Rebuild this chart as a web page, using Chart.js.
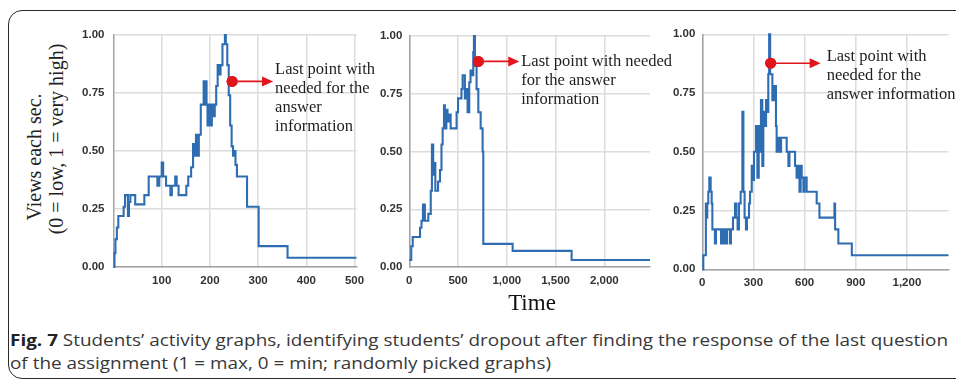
<!DOCTYPE html>
<html><head><meta charset="utf-8">
<script src="https://cdn.jsdelivr.net/npm/chart.js@4.4.1/dist/chart.umd.min.js"></script>
<style>
html,body{margin:0;padding:0;background:#fff;width:956px;height:382px;overflow:hidden;position:relative;}
#frame{position:absolute;left:8px;top:10px;width:990px;height:369px;border:1.5px solid #2a2a2a;border-radius:14px;box-sizing:border-box;}
canvas{position:absolute;}
.yt{position:absolute;font-family:'Liberation Serif',serif;font-size:20px;color:#222;white-space:nowrap;line-height:20px;transform:translate(-50%,-50%) rotate(-90deg);}
#time{position:absolute;left:532px;top:291px;font-family:'Liberation Serif',serif;font-size:23px;line-height:23px;color:#111;transform:translateX(-50%);white-space:nowrap;}
#cap{position:absolute;left:10px;top:328px;font-family:'Open Sans',sans-serif;font-size:16.5px;line-height:23px;color:#383838;white-space:nowrap;transform-origin:0 0;}
#cap b{color:#222;}
</style></head>
<body>
<div id="frame"></div>
<div class="yt" style="left:34px;top:157px">Views each sec.</div>
<div class="yt" style="left:56px;top:139px">(0 = low, 1 = very high)</div>
<canvas id="c1"></canvas>
<canvas id="c2"></canvas>
<canvas id="c3"></canvas>
<div id="time">Time</div>
<div id="cap"><div><span id="cap1"><b>Fig. 7</b> Students’ activity graphs, identifying students’ dropout after finding the response of the last question</span></div><div>of the assignment (1 = max, 0 = min; randomly picked graphs)</div></div>
<script>
// ---- data ----
const yTickValues = [0, 0.25, 0.5, 0.75, 1];
const yTickLabels = ['0.00', '0.25', '0.50', '0.75', '1.00'];

// Panel 1
const p1Time = [0, 2, 4, 7, 10, 21, 24, 30, 32, 35, 45, 64, 73, 91, 95, 100, 103, 109, 118, 121, 128, 131, 135, 151, 155, 161, 165, 168, 171, 174, 177, 181, 187, 189, 191, 193, 195, 198, 201, 204, 207, 210, 213, 216, 219, 222, 226, 231, 233, 236, 239, 242, 245, 248, 251, 253, 256, 277, 301, 361, 504];
const p1Views = [0, 0.06, 0.12, 0.17, 0.22, 0.26, 0.31, 0.22, 0.28, 0.31, 0.27, 0.31, 0.39, 0.35, 0.39, 0.45, 0.39, 0.35, 0.31, 0.35, 0.39, 0.35, 0.31, 0.35, 0.39, 0.43, 0.53, 0.48, 0.57, 0.48, 0.57, 0.70, 0.80, 0.70, 0.80, 0.70, 0.61, 0.70, 0.61, 0.70, 0.65, 0.70, 0.78, 0.87, 0.83, 0.87, 0.96, 1.00, 0.96, 0.87, 0.74, 0.61, 0.52, 0.48, 0.50, 0.44, 0.39, 0.26, 0.09, 0.04, 0.04];
const p1XTicks = [100, 200, 300, 400, 500];
const p1XLabels = ['100', '200', '300', '400', '500'];
const p1XMax = 504;
const p1Dot = [246, 0.80];
const p1ArrowTo = 331;
const p1Note = ['Last point with', 'needed for the', 'answer', 'information'];

// Panel 2
const p2Time = [0, 20, 35, 110, 125, 140, 160, 195, 220, 232, 245, 252, 267, 295, 315, 330, 342, 356, 365, 380, 392, 410, 424, 485, 500, 535, 547, 570, 588, 598, 615, 628, 645, 656, 663, 673, 690, 708, 732, 752, 759, 1060, 1665, 2469];
const p2Views = [0.03, 0.09, 0.13, 0.17, 0.20, 0.27, 0.20, 0.23, 0.33, 0.53, 0.40, 0.45, 0.33, 0.37, 0.42, 0.53, 0.60, 0.70, 0.60, 0.68, 0.63, 0.66, 0.60, 0.67, 0.73, 0.77, 0.83, 0.73, 0.77, 0.67, 0.80, 0.85, 0.83, 0.93, 1.00, 0.87, 0.77, 0.67, 0.60, 0.50, 0.10, 0.07, 0.03, 0.03];
const p2XTicks = [0, 500, 1000, 1500, 2000];
const p2XLabels = ['0', '500', '1,000', '1,500', '2,000'];
const p2XMax = 2469;
const p2Dot = [708, 0.89];
const p2ArrowTo = 1128;
const p2Note = ['Last point with needed', 'for the answer', 'information'];

// Panel 3
const p3Time = [0, 6, 21, 25, 29, 35, 41, 49, 55, 59, 74, 80, 110, 118, 125, 131, 139, 145, 162, 168, 180, 192, 200, 207, 215, 225, 235, 241, 248, 256, 262, 274, 280, 290, 296, 303, 315, 323, 331, 338, 344, 352, 358, 368, 374, 382, 387, 392, 398, 411, 421, 432, 436, 446, 456, 462, 495, 505, 511, 544, 553, 560, 570, 577, 583, 593, 599, 612, 671, 687, 775, 779, 798, 877, 1444];
const p3Views = [0, 0.06, 0.28, 0.22, 0.28, 0.33, 0.39, 0.33, 0.28, 0.17, 0.11, 0.17, 0.11, 0.17, 0.11, 0.17, 0.11, 0.17, 0.11, 0.17, 0.22, 0.28, 0.22, 0.17, 0.28, 0.33, 0.67, 0.33, 0.22, 0.17, 0.22, 0.28, 0.33, 0.44, 0.38, 0.50, 0.61, 0.39, 0.61, 0.50, 0.72, 0.44, 0.67, 0.61, 0.72, 0.67, 0.83, 1.00, 0.83, 0.72, 0.78, 0.61, 0.50, 0.56, 0.50, 0.56, 0.50, 0.44, 0.50, 0.44, 0.39, 0.44, 0.33, 0.44, 0.39, 0.33, 0.39, 0.33, 0.28, 0.22, 0.28, 0.17, 0.11, 0.06, 0.06];
const p3XTicks = [0, 300, 600, 900, 1200];
const p3XLabels = ['0', '300', '600', '900', '1,200'];
const p3XMax = 1444;
const p3Dot = [401, 0.877];
const p3ArrowTo = 694;
const p3Note = ['Last point with', 'needed for the', 'answer information'];

// ---- drawing ----
const LINE = '#2f6db3';
const RED = '#e2141c';

const annotate = {
  id: 'annotate',
  afterDatasetsDraw(chart, args, o) {
    const dot = chart.getDatasetMeta(1).data[0];
    if (!dot) return;
    const ctx = chart.ctx;
    const x0 = dot.x, y0 = dot.y;
    const tip = chart.scales.x.getPixelForValue(o.tipX);
    ctx.save();
    ctx.strokeStyle = RED; ctx.fillStyle = RED; ctx.lineWidth = 1.6;
    ctx.beginPath(); ctx.moveTo(x0, y0); ctx.lineTo(tip - 8, y0); ctx.stroke();
    ctx.beginPath(); ctx.moveTo(tip, y0); ctx.lineTo(tip - 11, y0 - 5); ctx.lineTo(tip - 11, y0 + 5); ctx.closePath(); ctx.fill();
    ctx.beginPath(); ctx.arc(x0, y0, 5.5, 0, Math.PI * 2); ctx.fill();
    ctx.fillStyle = '#1e1e1e';
    ctx.font = '16.5px "Liberation Serif", serif';
    ctx.textBaseline = 'middle'; ctx.textAlign = 'left';
    o.lines.forEach((t, i) => ctx.fillText(t, tip + o.dx, y0 + o.dy + i * o.lh));
    ctx.restore();
  }
};

function makePanel(id, box, xs, ys, xTicks, xLabels, xMax, dot, arrowTo, note, noteDx, noteDy, yPad) {
  const cv = document.getElementById(id);
  cv.width = box.w; cv.height = box.h;
  cv.style.left = box.left + 'px'; cv.style.top = box.top + 'px';
  cv.style.width = box.w + 'px'; cv.style.height = box.h + 'px';
  const pts = xs.map((x, i) => ({x: x, y: ys[i]}));
  const tickFont = {family: 'Liberation Sans', weight: 'bold', size: 11.5};
  new Chart(cv, {
    type: 'line',
    data: {datasets: [
      {data: pts, borderColor: LINE, borderWidth: 2.1, pointRadius: 0, stepped: true, fill: false, order: 1, clip: 4},
      {data: [{x: dot[0], y: dot[1]}], showLine: false, pointRadius: 5.5, pointBackgroundColor: RED, pointBorderColor: RED, pointBorderWidth: 0, order: 0}
    ]},
    options: {
      responsive: false, animation: false, devicePixelRatio: 1,
      layout: {padding: {left: 0, top: box.T - box.top, right: box.left + box.w - box.R, bottom: 0}},
      plugins: {legend: {display: false}, tooltip: {enabled: false},
        annotate: {tipX: arrowTo, lines: note, dx: noteDx, dy: noteDy, lh: 19}},
      scales: {
        x: {type: 'linear', min: 0, max: xMax,
          afterBuildTicks: s => { s.ticks = xTicks.map(v => ({value: v})); },
          afterFit: s => { s.height = box.top + box.h - box.B; },
          ticks: {callback: (v, i) => xLabels[i], font: tickFont, color: '#333', padding: 7, autoSkip: false, maxRotation: 0},
          grid: {color: '#dcdcdc', lineWidth: 1.5, drawTicks: false},
          border: {color: '#a3a3a3', width: 1.5}},
        y: {type: 'linear', min: 0, max: 1,
          afterBuildTicks: s => { s.ticks = yTickValues.map(v => ({value: v})); },
          afterFit: s => { s.width = box.L - box.left; },
          ticks: {callback: (v, i) => yTickLabels[i], font: tickFont, color: '#333', padding: yPad, autoSkip: false},
          grid: {color: '#dcdcdc', lineWidth: 1.5, drawTicks: false},
          border: {color: '#a3a3a3', width: 1.5}}
      }
    },
    plugins: [annotate]
  });
}

makePanel('c1', {left: 60, top: 18, w: 330, h: 292, L: 113.5, R: 356.5, T: 35, B: 267},
  p1Time, p1Views, p1XTicks, p1XLabels, p1XMax, p1Dot, p1ArrowTo, p1Note, 2, -12, 9);
makePanel('c2', {left: 368, top: 18, w: 312, h: 292, L: 409.3, R: 650, T: 36, B: 267},
  p2Time, p2Views, p2XTicks, p2XLabels, p2XMax, p2Dot, p2ArrowTo, p2Note, 2, 0, 7);
makePanel('c3', {left: 662, top: 18, w: 294, h: 292, L: 702.3, R: 948.5, T: 34.3, B: 269.3},
  p3Time, p3Views, p3XTicks, p3XLabels, p3XMax, p3Dot, p3ArrowTo, p3Note, 6, -7, 7);

// fit caption width to the figure
const cap = document.getElementById('cap');
const w1 = document.getElementById('cap1').getBoundingClientRect().width;
cap.style.transform = 'scaleX(' + (938 / w1) + ')';
</script>
</body></html>
